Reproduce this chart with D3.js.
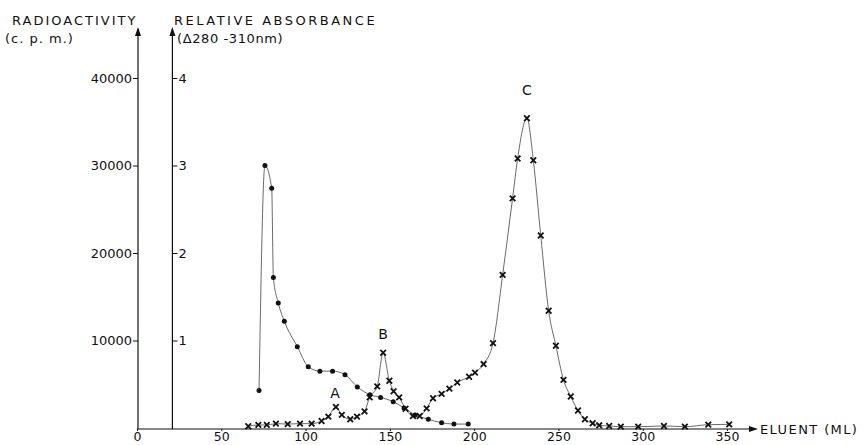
<!DOCTYPE html>
<html>
<head>
<meta charset="utf-8">
<script src="https://cdn.jsdelivr.net/npm/d3@7"></script>
<style>
  body { margin: 0; background: #fff; }
  text { font-family: "DejaVu Sans", sans-serif; fill: #111; }
</style>
</head>
<body>
<div></div>
<script>
var width = 864;
var height = 445;

// absorbance (filled circles), relative units
var absMl  = [72.4, 75.9, 79.9, 80.9, 83.8, 87.4, 95.1, 101.6, 108.5, 116, 123.4, 130.7, 138.2, 144.5, 152, 158.4, 164.9, 172.8, 180.7, 188, 196.5];
var absVal = [0.43, 3.0, 2.74, 1.72, 1.43, 1.22, 0.93, 0.70, 0.65, 0.65, 0.61, 0.47, 0.38, 0.35, 0.30, 0.23, 0.15, 0.10, 0.06, 0.045, 0.045];

// radioactivity (crosses), c.p.m.
var cpmMl  = [66, 72, 77, 82.4, 89.4, 96.7, 103.6, 109.5, 113.5, 118, 121.5, 126.5, 130.5, 135, 138, 142.5, 146, 149.7, 152.2, 155.5, 159.3, 163.7, 167.7, 171.8, 175.6, 180.7, 185.3, 190, 197, 200.5, 205.6, 211.2, 216.9, 222.8, 225.8, 231.3, 235.1, 239.5, 244.2, 248.5, 253, 257.3, 261.6, 265.7, 270.3, 274.2, 280.1, 287, 297.3, 312.6, 325, 338.9, 351.3];
var cpmVal = [200, 350, 350, 500, 450, 500, 500, 800, 1300, 2400, 1500, 1000, 1300, 1900, 3500, 4750, 8600, 5400, 4200, 3500, 2200, 1370, 1370, 2250, 3400, 3900, 4500, 5200, 5860, 6320, 7310, 9700, 17500, 26250, 30800, 35400, 30600, 22000, 13400, 9400, 5500, 3600, 2000, 1000, 540, 310, 230, 150, 150, 230, 150, 380, 420];

var xTicks = [0, 50, 100, 150, 200, 250, 300, 350];
var cpmTicks = [10000, 20000, 30000, 40000];
var absTicks = [1, 2, 3, 4];

var peakLabels = ["A", "B", "C"];
var peakMl = [117.5, 146, 231.3];
var peakVal = [2400, 8600, 35400];

var x = d3.scaleLinear().domain([0, 350]).range([137, 727]);
var y = d3.scaleLinear().domain([0, 40000]).range([428, 78]);
var yAbs = d3.scaleLinear().domain([0, 4]).range([428, 78]);
var absAxisMl = 21;

var svg = d3.select("div").append("svg")
  .attr("width", width)
  .attr("height", height);

var ink = "#111";

// axis lines with arrow heads
function arrowUp(px, top) {
  svg.append("line")
    .attr("x1", px).attr("x2", px)
    .attr("y1", 429).attr("y2", top + 2)
    .attr("stroke", ink).attr("stroke-width", 1.2);
  svg.append("path")
    .attr("d", "M" + px + "," + top + "L" + (px - 3) + "," + (top + 9) + "L" + (px + 3) + "," + (top + 9) + "Z")
    .attr("fill", ink);
}
arrowUp(x(0) + 1, 27);
arrowUp(x(absAxisMl), 27);

svg.append("line")
  .attr("x1", x(0)).attr("x2", 755)
  .attr("y1", 429).attr("y2", 429)
  .attr("stroke", ink).attr("stroke-width", 1.2);
svg.append("path")
  .attr("d", "M758,429L749,426L749,432Z")
  .attr("fill", ink);

// axes
var gx = svg.append("g")
  .attr("transform", "translate(0,429)")
  .call(d3.axisBottom(x).tickValues(xTicks).tickSize(2).tickPadding(1));
gx.select(".domain").remove();
gx.selectAll("text").style("font-size", "12.5px").style("font-family", "DejaVu Sans");

var gy = svg.append("g")
  .attr("transform", "translate(" + (x(0) + 1) + ",0)")
  .call(d3.axisLeft(y).tickValues(cpmTicks).tickSize(5).tickPadding(1).tickFormat(d3.format("d")));
gy.select(".domain").remove();
gy.selectAll("text").style("font-size", "13px").style("font-family", "DejaVu Sans");

var ga = svg.append("g")
  .attr("transform", "translate(" + x(absAxisMl) + ",0)")
  .call(d3.axisRight(yAbs).tickValues(absTicks).tickSize(5).tickPadding(1).tickFormat(d3.format("d")));
ga.select(".domain").remove();
ga.selectAll("text").style("font-size", "13px").style("font-family", "DejaVu Sans");

svg.selectAll(".tick line").attr("stroke", ink);

// titles
svg.append("text").attr("x", 12).attr("y", 25)
  .style("font-size", "13px").style("letter-spacing", "2px")
  .text("RADIOACTIVITY");
svg.append("text").attr("x", 5).attr("y", 43)
  .style("font-size", "13px").style("letter-spacing", "1px")
  .text("(c. p. m.)");
svg.append("text").attr("x", 174).attr("y", 25)
  .style("font-size", "13px").style("letter-spacing", "2.5px")
  .text("RELATIVE ABSORBANCE");
svg.append("text").attr("x", 177).attr("y", 43)
  .style("font-size", "13px").style("letter-spacing", "0.6px")
  .text("(\u0394280 -310nm)");
svg.append("text").attr("x", 760).attr("y", 434)
  .style("font-size", "13px").style("letter-spacing", "1.4px")
  .text("ELUENT (ML)");

// data
var absData = absMl.map(function(d, i) { return [d, absVal[i]]; });
var cpmData = cpmMl.map(function(d, i) { return [d, cpmVal[i]]; });

var absLine = d3.line()
  .x(function(d) { return x(d[0]); })
  .y(function(d) { return yAbs(d[1]); })
  .curve(d3.curveMonotoneX);
var cpmLine = d3.line()
  .x(function(d) { return x(d[0]); })
  .y(function(d) { return y(d[1]); })
  .curve(d3.curveMonotoneX);

svg.append("path").datum(absData)
  .attr("d", absLine)
  .attr("fill", "none").attr("stroke", "#444").attr("stroke-width", 0.8);
svg.append("path").datum(cpmData)
  .attr("d", cpmLine)
  .attr("fill", "none").attr("stroke", "#444").attr("stroke-width", 0.8);

svg.selectAll("circle.abs")
  .data(absData)
  .enter().append("circle")
  .attr("class", "abs")
  .attr("cx", function(d) { return x(d[0]); })
  .attr("cy", function(d) { return yAbs(d[1]); })
  .attr("r", 2.5)
  .attr("fill", ink);

var cross = d3.symbol().type(d3.symbolTimes).size(22);
svg.selectAll("path.cpm")
  .data(cpmData)
  .enter().append("path")
  .attr("class", "cpm")
  .attr("d", cross)
  .attr("transform", function(d) { return "translate(" + x(d[0]) + "," + y(d[1]) + ")"; })
  .attr("fill", ink)
  .attr("stroke", ink)
  .attr("stroke-width", 1.8);

// peak labels (A sits lower, C higher above its point)
var labelDy = [-9, -14, -23];
svg.selectAll("text.peak")
  .data(peakLabels)
  .enter().append("text")
  .attr("class", "peak")
  .attr("x", function(d, i) { return x(peakMl[i]); })
  .attr("y", function(d, i) { return y(peakVal[i]) + labelDy[i]; })
  .attr("text-anchor", "middle")
  .style("font-size", "14px")
  .text(function(d) { return d; });
</script>
</body>
</html>
